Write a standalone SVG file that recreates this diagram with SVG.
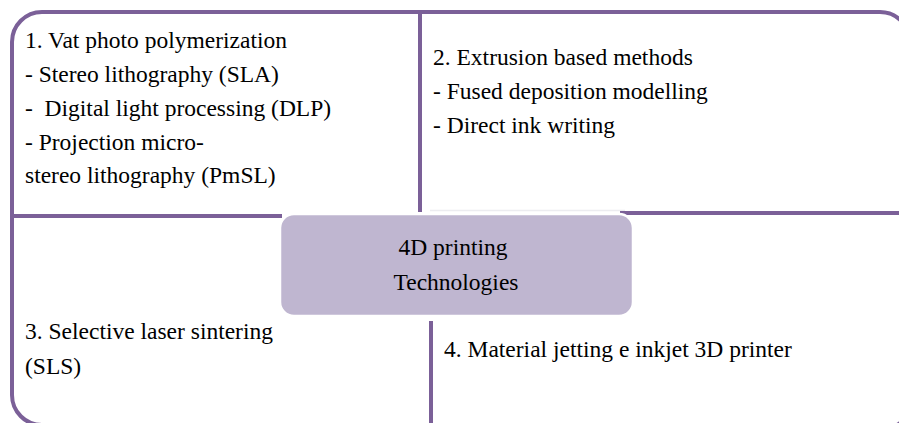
<svg xmlns="http://www.w3.org/2000/svg" width="899" height="423" viewBox="0 0 899 423">
  <style>
    .edge { fill: none; stroke: #7b6098; stroke-width: 4; stroke-linecap: butt; }
    .t { font-family: "Liberation Serif", "Times New Roman", serif; font-size: 23.5px; fill: #000; }
    .c { text-anchor: middle; }
  </style>
  <rect x="0" y="0" width="899" height="423" fill="#ffffff"/>

  <!-- quadrant 1: top-left -->
  <g id="vat-photo-polymerization">
    <path class="edge" d="M12,216 V42 A30,30 0 0 1 42,12 H420 V212"/>
    <path class="edge" d="M12,216 H282"/>
    <text class="t" x="25" y="48">1. Vat photo polymerization</text>
    <text class="t" x="25" y="82">- Stereo lithography (SLA)</text>
    <text class="t" x="25" y="116" xml:space="preserve">-  Digital light processing (DLP)</text>
    <text class="t" x="25" y="150">- Projection micro-</text>
    <text class="t" x="25" y="183">stereo lithography (PmSL)</text>
  </g>

  <!-- quadrant 2: top-right -->
  <g id="extrusion-based-methods">
    <path class="edge" d="M420,12 H880 A30,30 0 0 1 910,42"/>
    <path d="M430,210.5 H625" stroke="#ececf0" stroke-width="1.5" fill="none"/>
    <path class="edge" d="M620,213 H899"/>
    <text class="t" x="433" y="65">2. Extrusion based methods</text>
    <text class="t" x="433" y="99">- Fused deposition modelling</text>
    <text class="t" x="433" y="133">- Direct ink writing</text>
  </g>

  <!-- quadrant 3: bottom-left -->
  <g id="selective-laser-sintering">
    <path class="edge" d="M12,216 V395 A30,30 0 0 0 42,425"/>
    <text class="t" x="25" y="339">3. Selective laser sintering</text>
    <text class="t" x="25" y="374">(SLS)</text>
  </g>

  <!-- quadrant 4: bottom-right -->
  <g id="material-jetting">
    <path class="edge" d="M431,321 V425"/>
    <path class="edge" d="M912,399 A30,30 0 0 1 882,429"/>
    <text class="t" x="444" y="357">4. Material jetting e inkjet 3D printer</text>
  </g>

  <!-- central hub -->
  <g id="technologies">
    <rect x="280" y="214" width="353" height="102" rx="14" ry="14" fill="#bfb6d0" stroke="#ffffff" stroke-width="2.5"/>
    <text class="t c" x="453" y="255">4D printing</text>
    <text class="t c" x="456" y="290">Technologies</text>
  </g>

  <g id="connectors"/>
</svg>
